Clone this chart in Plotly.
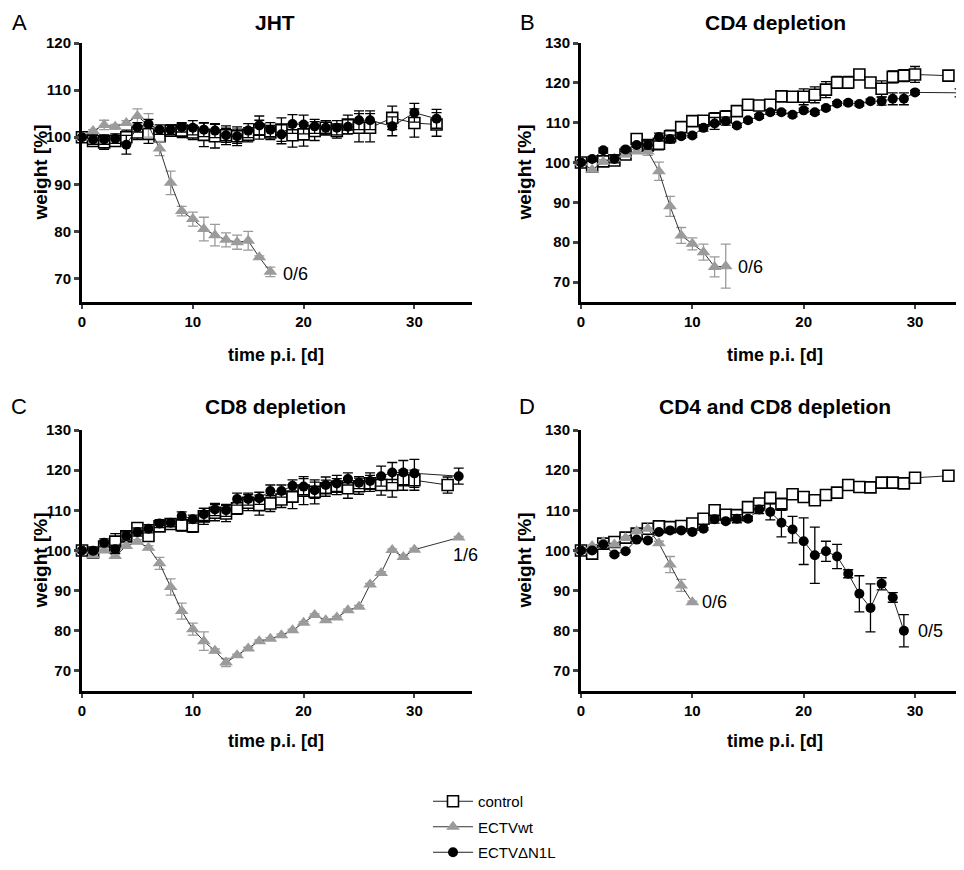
import plotly.graph_objects as go

# ---------------- Data ----------------
# Panel A: JHT
a_ctrl_days = list(range(0, 27)) + [28, 30, 32]
a_ctrl = [100, 99.2, 98.9, 99.2, 100, 101, 100.7, 100.2, 101.4, 101.4, 101, 100.5, 100.2, 100.4, 100.2,
          100.5, 101.6, 101, 101.6, 100.4, 100.6, 101.3, 102, 101.3, 102.7, 102, 102, 104.1, 103, 102.7]
a_ctrl_err = [0, 1, 1.5, 1, 1.5, 1.5, 2, 1, 1, 1.5, 1.5, 2.5, 2.5, 2, 2, 1.5, 2, 1.5, 2.5, 2.5,
              2.5, 2, 1.5, 1.5, 2, 3, 3, 2.5, 3, 2.5]
a_n1l_days = list(range(0, 27)) + [28, 30, 32]
a_n1l = [100, 99.5, 99.5, 99.7, 98.4, 102.1, 102.8, 101.6, 101.6, 102.1, 102, 101.6, 101.4, 100.4, 100.2,
         101.4, 102.5, 101.6, 100.6, 102.8, 102.7, 102.3, 102, 102, 102.2, 103.6, 103.6, 102.3, 105.2, 103.9]
a_n1l_err = [0, 1, 1, 1, 2, 1, 1, 1, 1, 1, 1.5, 1.5, 1.5, 1.5, 1.5, 1.5, 2, 1.5, 2, 2, 2, 1.5, 1.5,
             1.5, 1.5, 2, 2, 2, 2, 2]
a_wt_days = list(range(0, 18))
a_wt = [100, 101.3, 102.6, 102.2, 103, 104.5, 102.5, 97.6, 90.3, 84.3, 82.6, 80.5, 79.2, 78.2, 77.7, 78, 74.5, 71.4]
a_wt_err = [0, 0.3, 1, 0.5, 0.5, 1.5, 2.5, 1.5, 2.5, 1, 1.5, 2.5, 2.3, 1.5, 1.5, 2, 0.3, 1]

# Panel B: CD4 depletion
b_ctrl_days = list(range(0, 31)) + [33]
b_ctrl = [100, 99, 100.3, 100.5, 102, 105.9, 104.3, 104.7, 106.6, 108.9, 110.4, 110.5, 111, 111.5, 112.9,
          114.5, 114.3, 114.5, 116.6, 116.5, 116.5, 117, 118.3, 120.1, 120.1, 122.1, 120.1, 118.5, 121.5,
          121.8, 122.1, 121.8]
b_ctrl_err = [0, 0.5, 1, 1, 1, 1, 1.5, 1.5, 1.5, 1, 1, 1, 1.5, 1.5, 1, 1, 1, 1, 1, 1, 2, 2, 2, 1.5,
              1.5, 1, 1, 2, 1.5, 1.5, 2, 0.5]
b_n1l_days = list(range(0, 31)) + [34]
b_n1l = [100, 100.9, 103.1, 100.9, 103.3, 104.4, 104.4, 106.4, 105.9, 106.6, 106.8, 108.7, 109.8, 110.4,
         109.3, 110.6, 111.6, 112.6, 112.6, 112, 113.1, 112.6, 113.7, 114.8, 115, 114.7, 115.4, 115.4,
         116, 116, 117.6, 117.5]
b_n1l_err = [0, 0.5, 0.5, 1, 0.5, 0.5, 1, 1, 1, 0.5, 0.5, 0.8, 1.5, 1, 0.5, 0.5, 0.5, 0.5, 0.5, 0.5,
             0.5, 0.5, 0.5, 0.5, 0.5, 0.5, 0.5, 1, 1.5, 1.5, 0.5, 1]
b_wt_days = list(range(0, 14))
b_wt = [100, 98.2, 100.2, 101, 102, 102.8, 102.8, 97.8, 89, 81.7, 79.6, 77.5, 73.8, 74]
b_wt_err = [0, 0.5, 0.5, 0.5, 0.5, 0.5, 1, 2.3, 2.5, 2, 1.5, 2, 2.5, 5.5]

# Panel C: CD8 depletion
c_ctrl_days = list(range(0, 31)) + [33]
c_ctrl = [100, 99.5, 101, 102.2, 103.5, 105.6, 103.6, 106, 106.6, 106.3, 106, 108.5, 109.4, 109.2, 110.5,
          111.9, 111.3, 111.7, 112.7, 113.4, 114.9, 114.6, 115.5, 115.9, 115.5, 116, 116.7, 116.3, 116.3,
          117.5, 117.5, 116.3]
c_ctrl_err = [0, 0.5, 1, 2, 1, 1, 1, 1, 1, 1.5, 1.5, 2, 2, 2, 1.5, 2, 2.5, 2, 2, 3, 3.5, 3, 2, 2, 2.5,
              2, 2, 2.5, 3, 2.5, 2.5, 2]
c_n1l_days = list(range(0, 31)) + [34]
c_n1l = [100, 99.9, 101.9, 100.3, 103.6, 104.6, 105.4, 106.7, 106.9, 108.6, 107.8, 109, 110.2, 110,
         112.8, 112.8, 113, 114.8, 114.8, 116.1, 115.9, 115, 116.3, 116.7, 117.8, 116.9, 117.3, 118.5,
         119.4, 119.4, 119.2, 118.5]
c_n1l_err = [0, 0.5, 1, 1, 1, 1, 1, 1, 1, 1, 1, 1.5, 1.5, 1.5, 1.5, 1.5, 1.5, 1.5, 1.5, 1.5, 2, 2, 2,
             2, 1.5, 1.5, 2, 2.5, 2.5, 3, 3.5, 2]
c_wt_days = list(range(0, 31)) + [34]
c_wt = [100, 98.8, 100, 98.6, 101.1, 102.2, 100.7, 96.8, 90.9, 84.9, 80.4, 77.4, 75, 72.1, 73.9, 75.6,
        77.4, 78, 78.9, 80.1, 82, 83.9, 82.6, 83.3, 85.1, 86, 91.5, 94.4, 100.1, 98.4, 100.2, 103.2]
c_wt_err = [0, 0.3, 0.3, 0.5, 0.5, 0.5, 0.5, 1.5, 2, 2, 1.5, 2.3, 0.5, 1, 0.3, 0.3, 0.3, 0.3, 0.3, 0.3,
            0.3, 0.3, 0.3, 0.3, 0.3, 0.3, 0.3, 0.3, 0.3, 0.3, 0.3, 0.3]

# Panel D: CD4 and CD8 depletion
d_ctrl_days = list(range(0, 31)) + [33]
d_ctrl = [100, 99.2, 101.7, 102.1, 103.2, 104.2, 105.4, 106, 105.8, 106.1, 106.7, 107.9, 110, 108.9,
          108.8, 110.8, 111.7, 113.1, 111.5, 114, 113.3, 112.5, 113.8, 114.4, 116.3, 115.8, 115.7, 116.9,
          116.9, 116.7, 118.1, 118.6]
d_ctrl_err = [0, 0.3, 0.3, 0.3, 0.3, 0.3, 0.3, 0.3, 0.3, 0.3, 0.3, 0.3, 0.3, 0.3, 0.5, 0.5, 1, 1, 1.5,
              0.5, 0.5, 0.5, 0.5, 0.5, 0.5, 0.3, 0.3, 0.3, 0.3, 0.3, 0.3, 0.3]
d_n1l_days = list(range(0, 30))
d_n1l = [100, 100, 101.5, 99, 99.8, 102.7, 102.5, 104.6, 105, 105, 104.6, 105.4, 107.8, 107.3, 107.9,
         107.9, 110.2, 109.6, 106.9, 105.2, 102.3, 98.8, 99.8, 98.5, 94.2, 89.2, 85.7, 91.7, 88.3, 80]
d_n1l_err = [0, 0.3, 0.3, 0.3, 0.3, 0.3, 0.3, 0.3, 0.3, 0.3, 0.3, 0.3, 1, 0.5, 1, 0.5, 1, 2, 3.5,
             3.3, 5.8, 7, 2.5, 3, 1, 4.5, 6, 1.5, 1.2, 4]
d_wt_days = list(range(0, 11))
d_wt = [100, 101.1, 102.1, 101.5, 103.1, 104.8, 105.4, 101.8, 96.5, 91.3, 87.1]
d_wt_err = [0, 0.3, 0.3, 0.3, 0.3, 0.3, 0.3, 0.5, 2, 1.5, 0.3]

panel_titles = ["JHT", "CD4 depletion", "CD8 depletion", "CD4 and CD8 depletion"]
panel_letters = ["A", "B", "C", "D"]
series_names = ["control", "ECTVwt", "ECTV\u0394N1L"]
y_ticks_a = [70, 80, 90, 100, 110, 120]
y_ticks_bcd = [70, 80, 90, 100, 110, 120, 130]
x_ticks = [0, 10, 20, 30]

# survival annotations
surv_panel = [0, 1, 2, 3, 3]
surv_x = [18.0, 13.9, 33.3, 10.7, 30.1]
surv_y = [71.0, 73.8, 98.8, 87.1, 80.0]
surv_text = ["0/6", "0/6", "1/6", "0/6", "0/5"]

# ---------------- Figure ----------------
OFF = 8                    # default page body margin
W, H = 964 - 2 * OFF, 870 - 2 * OFF
fig = go.Figure()

GRAY = "#9b9b9b"
FONT = "Liberation Sans"


def fx(p):
    return (p - OFF) / W


def fy(p):
    return 1 - (p - OFF) / H


panels = [
    (a_ctrl_days, a_ctrl, a_ctrl_err, a_wt_days, a_wt, a_wt_err, a_n1l_days, a_n1l, a_n1l_err),
    (b_ctrl_days, b_ctrl, b_ctrl_err, b_wt_days, b_wt, b_wt_err, b_n1l_days, b_n1l, b_n1l_err),
    (c_ctrl_days, c_ctrl, c_ctrl_err, c_wt_days, c_wt, c_wt_err, c_n1l_days, c_n1l, c_n1l_err),
    (d_ctrl_days, d_ctrl, d_ctrl_err, d_wt_days, d_wt, d_wt_err, d_n1l_days, d_n1l, d_n1l_err),
]

# page-pixel geometry of the plot areas
px_x = [(82, 472), (581, 956), (82, 472), (581, 956)]
px_y = [(43, 302), (43, 302), (430, 691), (430, 691)]
x_ranges = [[0, 35.2], [0, 33.68], [0, 35.2], [0, 33.68]]
y_ranges = [[65, 120], [65, 130], [65, 130], [65, 130]]

for i, p in enumerate(panels):
    cd, cv, ce, wd, wv, we, nd, nv, ne = p
    xa = "x" if i == 0 else f"x{i+1}"
    ya = "y" if i == 0 else f"y{i+1}"
    show = (i == 0)
    fig.add_trace(go.Scatter(
        x=cd, y=cv, error_y=dict(type="data", array=ce, color="black", thickness=1.3, width=5),
        mode="lines+markers", name=series_names[0], showlegend=show, legendrank=1,
        legendgroup="g1",
        line=dict(color="#222222", width=1),
        marker=dict(symbol="square", size=11, color="white", line=dict(color="black", width=1.6)),
        xaxis=xa, yaxis=ya, cliponaxis=False))
    fig.add_trace(go.Scatter(
        x=wd, y=wv, error_y=dict(type="data", array=we, color=GRAY, thickness=1.3, width=5),
        mode="lines+markers", name=series_names[1], showlegend=show, legendrank=2,
        legendgroup="g2",
        line=dict(color="#333333", width=1),
        marker=dict(symbol="triangle-up", size=12, color=GRAY, line=dict(width=0)),
        xaxis=xa, yaxis=ya, cliponaxis=False))
    fig.add_trace(go.Scatter(
        x=nd, y=nv, error_y=dict(type="data", array=ne, color="black", thickness=1.3, width=5),
        mode="lines+markers", name=series_names[2], showlegend=show, legendrank=3,
        legendgroup="g3",
        line=dict(color="#222222", width=1),
        marker=dict(symbol="circle", size=10, color="black"),
        xaxis=xa, yaxis=ya, cliponaxis=False))

layout = dict(
    template="none",
    width=W, height=H, margin=dict(l=0, r=0, t=0, b=0, autoexpand=False),
    paper_bgcolor="white", plot_bgcolor="white",
    font=dict(family=FONT, color="black"),
    showlegend=True,
    legend=dict(x=fx(428), y=fy(785), xanchor="left", yanchor="top",
                font=dict(family=FONT, size=15, color="black"),
                itemwidth=40, tracegroupgap=3, bgcolor="rgba(0,0,0,0)"),
)

annotations = []
for i in range(4):
    xk = "xaxis" if i == 0 else f"xaxis{i+1}"
    yk = "yaxis" if i == 0 else f"yaxis{i+1}"
    ya = "y" if i == 0 else f"y{i+1}"
    xa = "x" if i == 0 else f"x{i+1}"
    x0, x1 = px_x[i]
    y0, y1 = px_y[i]
    yt = y_ticks_a if i == 0 else y_ticks_bcd
    layout[xk] = dict(domain=[fx(x0), min(1.0, fx(x1))], range=x_ranges[i], anchor=ya, automargin=False,
                      tickvals=x_ticks, ticktext=[f"<b>{t}</b>" for t in x_ticks],
                      ticks="outside", ticklen=4, tickwidth=2,
                      showline=True, linewidth=3, linecolor="black",
                      showgrid=False, zeroline=False,
                      tickfont=dict(family=FONT, size=15, color="black"))
    layout[yk] = dict(domain=[fy(y1), fy(y0)], range=y_ranges[i], anchor=xa, automargin=False,
                      tickvals=yt, ticktext=[f"<b>{t}</b>" for t in yt], ticks="outside",
                      ticklen=5, tickwidth=2.5,
                      showline=True, linewidth=3, linecolor="black",
                      showgrid=False, zeroline=False,
                      tickfont=dict(family=FONT, size=15, color="black"))
    # panel title
    cx = 275 if i in (0, 2) else 775
    ty = 22 if i < 2 else 406
    annotations.append(dict(xref="paper", yref="paper", x=fx(cx), y=fy(ty),
                            xanchor="center", yanchor="middle",
                            text=f"<b>{panel_titles[i]}</b>", showarrow=False,
                            font=dict(family=FONT, size=21)))
    # panel letter
    lx = 19 if i in (0, 2) else 527
    annotations.append(dict(xref="paper", yref="paper", x=fx(lx), y=fy(ty),
                            xanchor="center", yanchor="middle",
                            text=panel_letters[i], showarrow=False,
                            font=dict(family=FONT, size=22)))
    # y axis title
    yx = 40 if i in (0, 2) else 524
    annotations.append(dict(xref="paper", yref="paper", x=fx(yx), y=fy((y0 + y1) / 2),
                            xanchor="center", yanchor="middle",
                            text="<b>weight [%]</b>", showarrow=False, textangle=-90,
                            font=dict(family=FONT, size=19)))
    # x axis title
    xty = 355 if i < 2 else 741
    xcx = 276 if i in (0, 2) else 775
    annotations.append(dict(xref="paper", yref="paper", x=fx(xcx), y=fy(xty),
                            xanchor="center", yanchor="middle",
                            text="<b>time p.i. [d]</b>", showarrow=False,
                            font=dict(family=FONT, size=18)))

for pi, sx, sy, st in zip(surv_panel, surv_x, surv_y, surv_text):
    xa = "x" if pi == 0 else f"x{pi+1}"
    ya = "y" if pi == 0 else f"y{pi+1}"
    annotations.append(dict(xref=xa, yref=ya, x=sx, y=sy, text=st, showarrow=False,
                            xanchor="left", yanchor="middle", font=dict(family=FONT, size=18)))

layout["annotations"] = annotations
fig.update_layout(**layout)
fig.write_html("out.html")
